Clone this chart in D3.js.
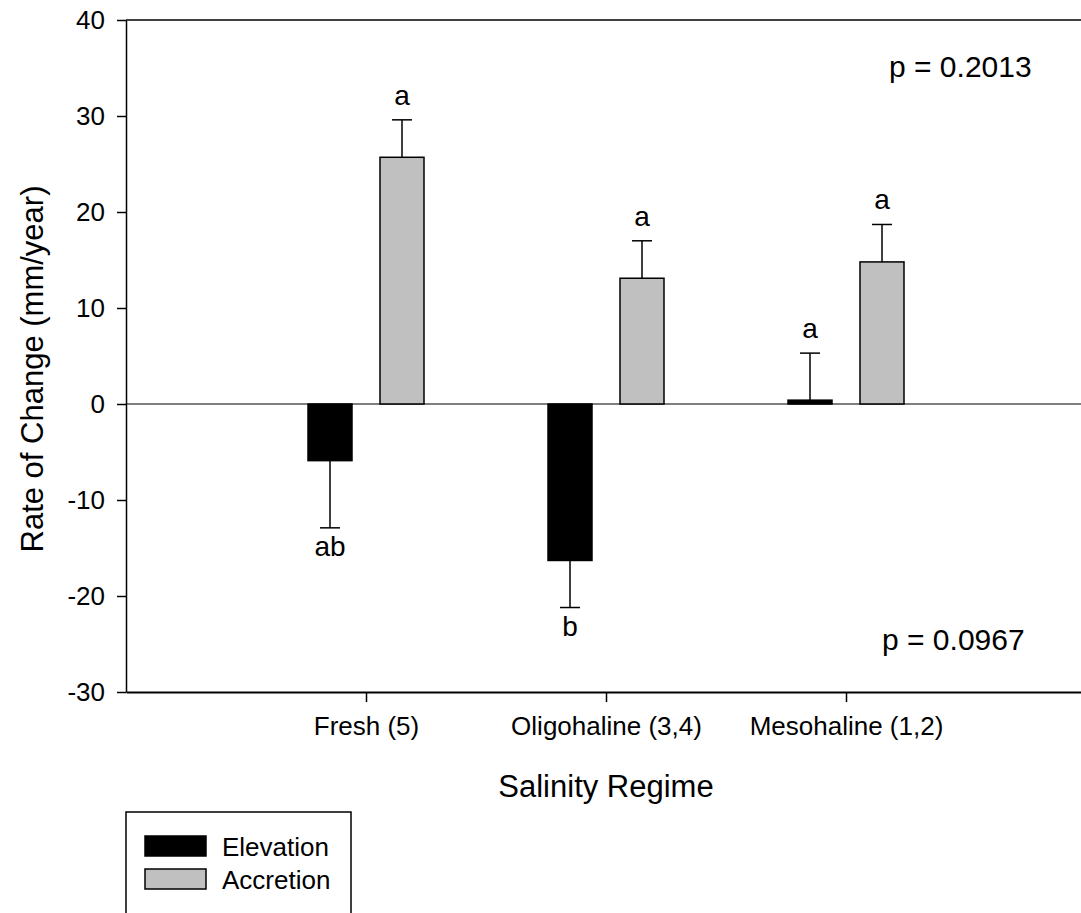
<!DOCTYPE html>
<html lang="en">
<head>
    <meta charset="UTF-8">
    <title>salinity regime bars</title>
    <script src="https://d3js.org/d3.v7.min.js"></script>
    <style>
        body { margin: 0; background: #fff; }
        svg text { font-family: "Liberation Sans", Arial, sans-serif; fill: #000; }
    </style>
</head>
<body>
    <svg width="1081" height="913"></svg>
    <script>
        // data
        const categories = ['Fresh (5)', 'Oligohaline (3,4)', 'Mesohaline (1,2)'];
        const elevation = [-5.9, -16.3, 0.4];
        const elevationErr = [7.0, 4.9, 4.9];
        const accretion = [25.7, 13.1, 14.8];
        const accretionErr = [3.9, 3.9, 3.9];
        const elevationLetters = ['ab', 'b', 'a'];
        const accretionLetters = ['a', 'a', 'a'];
        const yTicks = [40, 30, 20, 10, 0, -10, -20, -30];
        const pValues = ['p = 0.2013', 'p = 0.0967'];

        const svg = d3.select('svg');
        const margin = {top: 20, left: 126, bottom: 221};
        const height = +svg.attr('height');

        const x = d3.scaleLinear()
            .domain([0, 4])
            .range([margin.left, margin.left + 960]);
        const y = d3.scaleLinear()
            .domain([-30, 40])
            .range([height - margin.bottom, margin.top]);

        const barW = 44, offset = 36, capW = 20;

        // series as flat list
        const bars = [];
        categories.forEach((c, i) => {
            bars.push({i: i, v: elevation[i], e: elevationErr[i], fill: '#000', letter: elevationLetters[i], dx: -offset});
            bars.push({i: i, v: accretion[i], e: accretionErr[i], fill: '#c0c0c0', letter: accretionLetters[i], dx: offset});
        });

        // zero line
        svg.append('line')
            .attr('x1', x(0)).attr('x2', x(4))
            .attr('y1', y(0)).attr('y2', y(0))
            .attr('stroke', '#000').attr('stroke-width', 1.2);

        // top frame line
        svg.append('line')
            .attr('x1', x(0)).attr('x2', x(4))
            .attr('y1', y(40)).attr('y2', y(40))
            .attr('stroke', '#000').attr('stroke-width', 1.5);

        // error bars (one-sided, away from zero)
        const errEnd = d => d.v >= 0 ? d.v + d.e : d.v - d.e;
        const eb = svg.append('g').attr('stroke', '#000').attr('stroke-width', 1.5);
        eb.selectAll('line.stem')
            .data(bars).enter().append('line')
            .attr('class', 'stem')
            .attr('x1', d => x(d.i + 1) + d.dx).attr('x2', d => x(d.i + 1) + d.dx)
            .attr('y1', d => y(d.v)).attr('y2', d => y(errEnd(d)));
        eb.selectAll('line.cap')
            .data(bars).enter().append('line')
            .attr('class', 'cap')
            .attr('x1', d => x(d.i + 1) + d.dx - capW / 2).attr('x2', d => x(d.i + 1) + d.dx + capW / 2)
            .attr('y1', d => y(errEnd(d))).attr('y2', d => y(errEnd(d)));

        // bars
        svg.selectAll('rect.bar')
            .data(bars).enter().append('rect')
            .attr('class', 'bar')
            .attr('x', d => x(d.i + 1) + d.dx - barW / 2)
            .attr('width', barW)
            .attr('y', d => y(Math.max(0, d.v)))
            .attr('height', d => Math.abs(y(d.v) - y(0)))
            .attr('fill', d => d.fill)
            .attr('stroke', '#000')
            .attr('stroke-width', 1.5);

        // significance letters
        svg.selectAll('text.letter')
            .data(bars).enter().append('text')
            .attr('class', 'letter')
            .attr('x', d => x(d.i + 1) + d.dx)
            .attr('y', d => d.v >= 0 ? y(errEnd(d)) - 15 : y(errEnd(d)) + 28)
            .attr('text-anchor', 'middle')
            .style('font-size', '28px')
            .text(d => d.letter);

        // axes
        const yAxis = d3.axisLeft(y)
            .tickValues(yTicks)
            .tickFormat(d => String(d))   // plain hyphen minus like the original
            .tickSize(9)
            .tickSizeOuter(0)
            .tickPadding(12);
        const gy = svg.append('g')
            .attr('transform', 'translate(' + [x(0), 0] + ')')
            .call(yAxis);
        gy.selectAll('text').style('font-size', '26px');

        const xAxis = d3.axisBottom(x)
            .tickValues([1, 2, 3])
            .tickFormat(d => categories[d - 1])
            .tickSize(10)
            .tickSizeOuter(0)
            .tickPadding(15);
        const gx = svg.append('g')
            .attr('transform', 'translate(' + [0, y(-30)] + ')')
            .call(xAxis);
        gx.selectAll('text').style('font-size', '26px');
        gx.select('.domain').attr('stroke-width', 2);

        svg.selectAll('.domain, .tick line').attr('stroke', '#000');
        gy.selectAll('.tick line, .domain').attr('stroke-width', 1.5);
        gx.selectAll('.tick line').attr('stroke-width', 1.5);

        // titles
        svg.append('text')
            .attr('transform', 'translate(43,' + 369 + ') rotate(-90)')
            .attr('text-anchor', 'middle')
            .style('font-size', '31px')
            .text('Rate of Change (mm/year)');
        svg.append('text')
            .attr('x', x(2)).attr('y', 797)
            .attr('text-anchor', 'middle')
            .style('font-size', '31px')
            .text('Salinity Regime');

        // p values
        svg.append('text')
            .attr('x', 889).attr('y', 77)
            .style('font-size', '30px')
            .text(pValues[0]);
        svg.append('text')
            .attr('x', 882).attr('y', 650)
            .style('font-size', '30px')
            .text(pValues[1]);

        // legend
        const lg = svg.append('g');
        lg.append('rect')
            .attr('x', 126).attr('y', 812)
            .attr('width', 225).attr('height', 120)
            .attr('fill', 'none').attr('stroke', '#000').attr('stroke-width', 1.5);
        const legendItems = [{name: 'Elevation', fill: '#000'}, {name: 'Accretion', fill: '#c0c0c0'}];
        legendItems.forEach((d, k) => {
            lg.append('rect')
                .attr('x', 145).attr('y', 836 + k * 33)
                .attr('width', 61).attr('height', 20)
                .attr('fill', d.fill).attr('stroke', '#000').attr('stroke-width', 1.5);
            lg.append('text')
                .attr('x', 222).attr('y', 856 + k * 33)
                .style('font-size', '26px')
                .text(d.name);
        });
    </script>
</body>
</html>
